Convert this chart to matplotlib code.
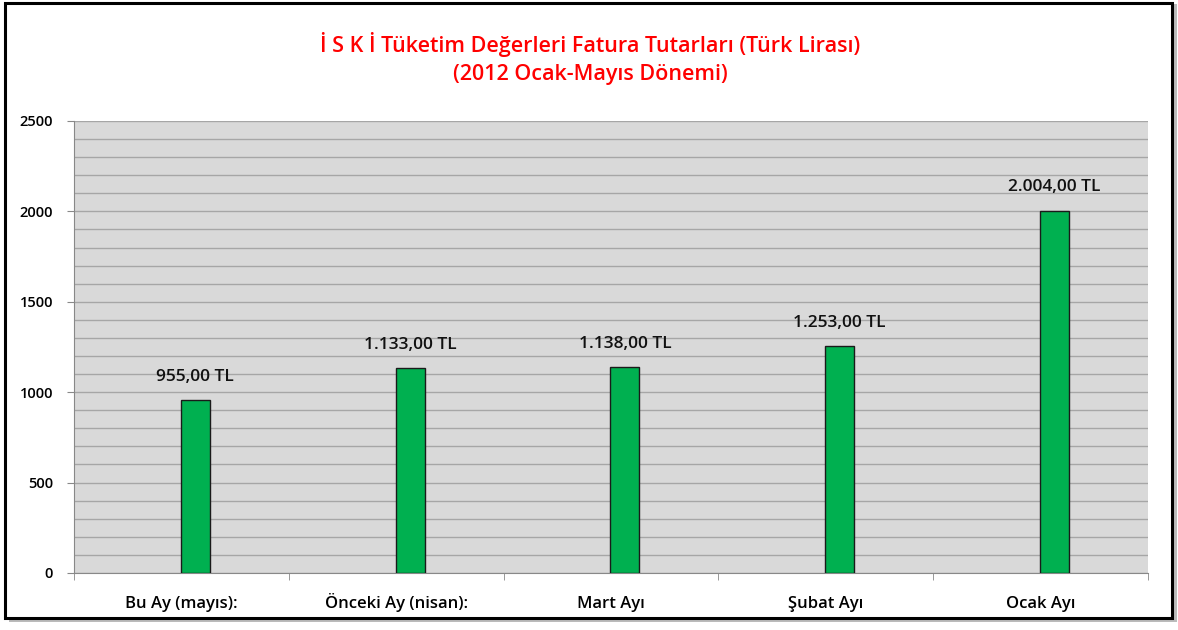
import matplotlib.pyplot as plt
from matplotlib.patches import Rectangle
import numpy as np

plt.rcParams['font.family'] = ['Open Sans', 'DejaVu Sans']

categories = ['Bu Ay (mayıs):', 'Önceki Ay (nisan):', 'Mart Ayı', 'Şubat Ayı', 'Ocak Ayı']
values = [955, 1133, 1138, 1253, 2004]
value_labels = ['955,00 TL', '1.133,00 TL', '1.138,00 TL', '1.253,00 TL', '2.004,00 TL']

fig = plt.figure(figsize=(11.78, 6.30), dpi=100)
ax = fig.add_axes([0.0628, 0.0905, 0.9117, 0.7175])

# outer frame with shadow (kept behind the axes)
fig.patches.append(Rectangle((0.0075, 0.012), 0.992, 0.982, transform=fig.transFigure,
                             facecolor='#bbbbbb', edgecolor='none', zorder=-2))
fig.patches.append(Rectangle((0.0042, 0.0190), 0.991, 0.976, transform=fig.transFigure,
                             facecolor='white', edgecolor='black', linewidth=2.2, zorder=-1))

x = np.arange(len(categories))
ax.set_facecolor('#d9d9d9')
ax.bar(x + 0.065, values, width=0.135, color='#00b050', edgecolor='#1a1a1a',
       linewidth=1.0, zorder=3)

for xi, v, lab in zip(x, values, value_labels):
    ax.text(xi + 0.065, v + 85, lab, ha='center', va='bottom', fontsize=12.5,
            fontweight='semibold', color='#111111', zorder=4)

ax.set_xlim(-0.5, len(categories) - 0.5)
ax.set_ylim(0, 2500)
ax.set_yticks(np.arange(0, 2501, 500))
ax.set_yticks(np.arange(0, 2501, 100), minor=True)
ax.yaxis.grid(True, which='both', color='#a6a6a6', linewidth=1.0, zorder=1)
ax.set_axisbelow(True)

ax.set_xticks(x)
ax.set_xticklabels(categories, fontsize=12, fontweight='semibold')
ax.set_xticks(np.arange(-0.5, len(categories), 1.0), minor=True)
ax.tick_params(axis='x', which='major', length=0, pad=25)
ax.tick_params(axis='x', which='minor', length=5, color='#888888')
ax.tick_params(axis='y', which='major', length=5, color='#888888', labelsize=10.5, pad=10)
ax.tick_params(axis='y', which='minor', length=0)
for lab in ax.get_xticklabels():
    lab.set_verticalalignment('baseline')
for lab in ax.get_yticklabels():
    lab.set_fontweight('semibold')

for side in ['top', 'right']:
    ax.spines[side].set_visible(False)
ax.spines['left'].set_color('#888888')
ax.spines['bottom'].set_color('#888888')

fig.text(0.501, 0.930, 'İ S K İ Tüketim Değerleri Fatura Tutarları (Türk Lirası)',
         ha='center', va='center', fontsize=15.5, fontweight='semibold', color='#ff0000')
fig.text(0.501, 0.882, '(2012 Ocak-Mayıs Dönemi)',
         ha='center', va='center', fontsize=15.5, fontweight='semibold', color='#ff0000')

fig.savefig('out.png', dpi=100)
